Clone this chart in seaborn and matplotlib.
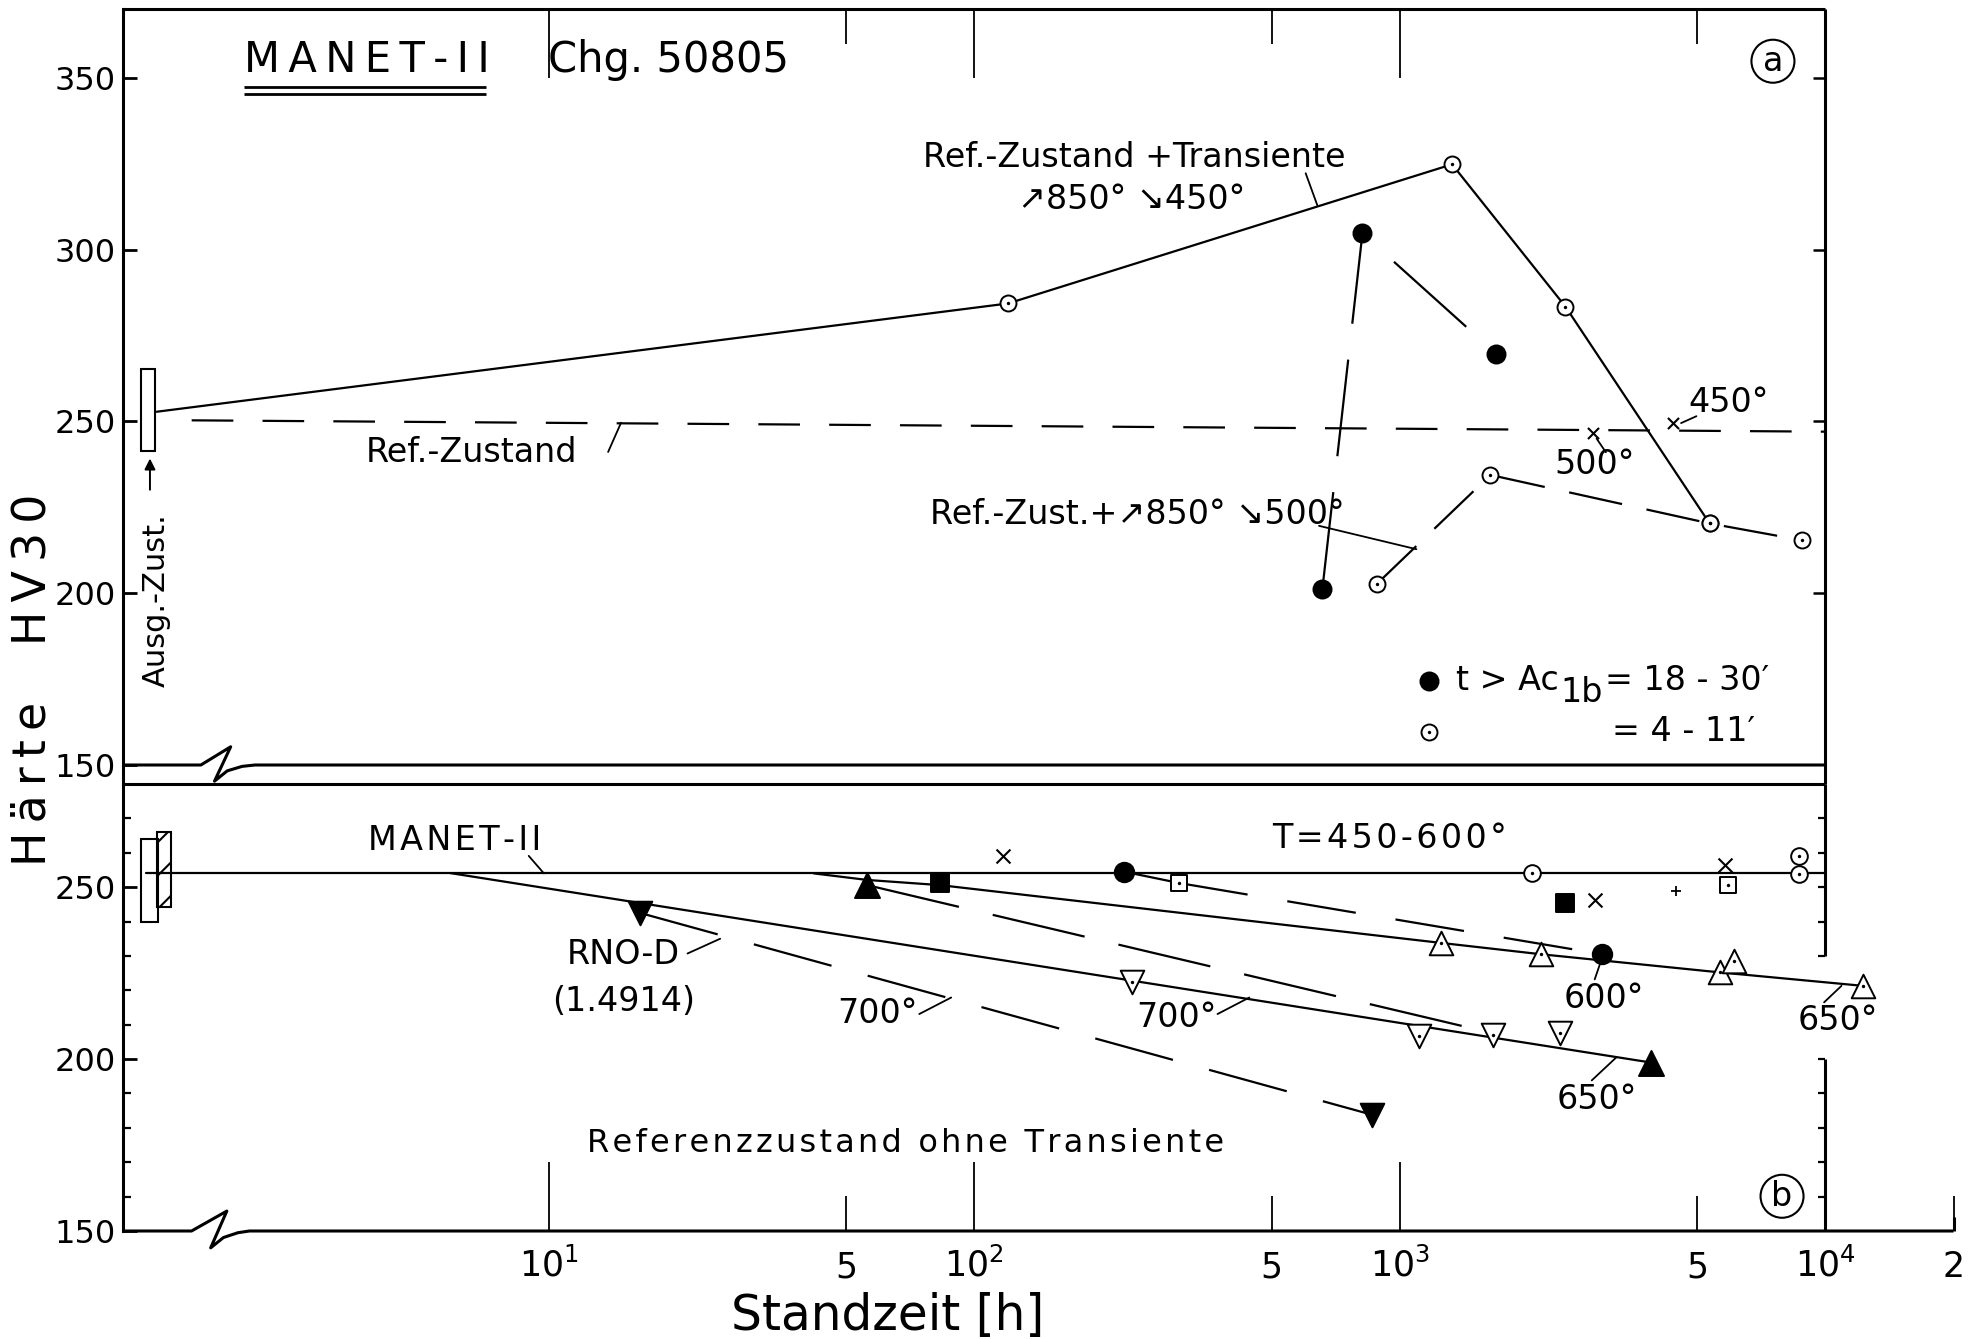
import matplotlib
matplotlib.use("Agg")
import numpy as np
import matplotlib.pyplot as plt
import seaborn as sns
from matplotlib.patches import Rectangle
from matplotlib.ticker import FixedLocator, FixedFormatter, NullFormatter, NullLocator

sns.set_style("white", rc={"axes.edgecolor": "black", "text.color": "black",
                           "xtick.color": "black", "ytick.color": "black",
                           "axes.labelcolor": "black"})
plt.rcParams["font.family"] = ["DejaVu Sans"]
plt.rcParams["mathtext.fontset"] = "dejavusans"
plt.rcParams["lines.scale_dashes"] = False
plt.rcParams["hatch.linewidth"] = 1.5

INK = "black"

# ---------------- panel (a): reference state with heating transient ----------------
a_tr450_t = [1.2, 120, 1327, 2450, 5345]            # solid: ref. state + 850°/450° transient
a_tr450_hv = [252.8, 284.3, 324.8, 283.4, 220.3]
a_full_t = [658, 817, 1687]                          # filled circles (t > Ac1b 18-30 min)
a_full_hv = [201.3, 304.7, 269.6]
a_open_t = [885, 1633, 5345, 8810]                   # open circles, 850°/500° transient
a_open_hv = [202.8, 234.4, 220.3, 215.4]
a_ref_t = [1.45, 1.0e4]                              # reference state
a_ref_hv = [250.3, 247.0]
a_cross_t = [2838, 4373]                             # 500°, 450°
a_cross_hv = [246.6, 249.5]
a_init_t = [1.10, 1.19]                              # initial state band
a_init_hv = [241.3, 265.1]

# ---------------- panel (b): reference state without transient ----------------
b_manet_t = [1.13, 1.0e4]
b_manet_hv = [254.0, 254.0]
b_init_t = [1.10, 1.21]
b_init_hv = [240.0, 263.9]
b_rno_init_t = [1.20, 1.30]
b_rno_init_hv = [244.3, 265.9]
b_650a_t = [42, 56, 83, 1247, 2143, 5662, 12250]
b_650a_hv = [254.0, 252.1, 250.6, 233.8, 230.5, 225.2, 221.3]
b_650a_tri_t = [1247, 2143, 5662, 6109, 12250]
b_650a_tri_hv = [233.8, 230.5, 225.2, 228.4, 221.3]
b_700_t = [5.87, 3890]
b_700_hv = [254.1, 199.0]
b_700_tri_t = [234.6, 1107, 1656, 2377]
b_700_tri_hv = [222.3, 206.6, 207.0, 207.5]
b_650b_t = [56, 1656]
b_650b_hv = [250.6, 207.5]
b_fill_up_t = [56, 3890]
b_fill_up_hv = [250.6, 199.0]
b_fill_sq_t = [83, 2449]
b_fill_sq_hv = [251.1, 245.4]
b_600_t = [225, 303]
b_600_hv = [254.5, 251.2]
b_600d_t = [303, 2987]
b_600d_hv = [251.2, 230.5]
b_fill_c_t = [225, 2987]
b_fill_c_hv = [254.5, 230.5]
b_rno_t = [16.4, 861]
b_rno_hv = [242.5, 183.8]
b_cross_t = [117, 2871, 5825]
b_cross_hv = [259.0, 246.4, 256.3]
b_ocirc_t = [2050, 8670, 8670]
b_ocirc_hv = [254.1, 259.0, 253.7]
b_osq_t = [303, 5900]
b_osq_hv = [251.2, 250.6]
b_plus_t = [4467]
b_plus_hv = [248.9]

x_major = [10, 100, 1000, 10000]
x_major_labels = ["$10^{1}$", "$10^{2}$", "$10^{3}$", "$10^{4}$"]
x_minor = [50, 500, 5000, 20000]
x_minor_labels = ["5", "5", "5", "2"]
y_top_ticks = [150, 200, 250, 300, 350]
y_bot_ticks = [150, 200, 250]


def curve(ax, t, hv, ls="-", lw=1.6):
    sns.lineplot(x=t, y=hv, ax=ax, color=INK, linewidth=lw, linestyle=ls,
                 sort=False, estimator=None, errorbar=None, zorder=3)


def marks(ax, t, hv, marker, size, face=INK, lw=1.4, dot=False):
    kw = dict(x=t, y=hv, ax=ax, marker=marker, s=size ** 2, color=face,
              linewidth=lw, zorder=5, legend=False, clip_on=False)
    if marker not in ("x", "+"):
        kw["edgecolor"] = INK
    sns.scatterplot(**kw)
    if dot:
        sns.scatterplot(x=t, y=hv, ax=ax, marker="o", s=6, color=INK,
                        edgecolor=INK, linewidth=0, zorder=6, legend=False, clip_on=False)


def rule(ax, xs, ys, lw=2.2):
    ax.plot(xs, ys, color=INK, lw=lw, clip_on=False, solid_capstyle="butt", zorder=4)


def lead(ax, xs, ys):
    ax.plot(xs, ys, color=INK, lw=1.3, clip_on=False, zorder=4)


def spaced(s, sep="\u200a"):
    return sep.join(s)


def note(ax, x, y, s, size=24, ha="left", va="center", **kw):
    ax.text(x, y, s, fontsize=size, ha=ha, va=va, zorder=7, **kw)


fig = plt.figure(figsize=(19.88, 13.39), dpi=100)
L = 123 / 1988
W = (1953.5 - 123) / 1988
ax1 = fig.add_axes([L, 1 - 765 / 1339, W, (765 - 9) / 1339])
ax2 = fig.add_axes([L, 1 - 1231 / 1339, W, (1231 - 784) / 1339])
for ax in (ax1, ax2):
    ax.set_xscale("log")
    ax.patch.set_alpha(0)

# ---------------- panel (a) ----------------
ax1.add_patch(Rectangle((a_init_t[0], a_init_hv[0]), a_init_t[1] - a_init_t[0],
                        a_init_hv[1] - a_init_hv[0], fill=False, lw=1.5, ec=INK, zorder=4))
curve(ax1, a_tr450_t, a_tr450_hv)
curve(ax1, a_ref_t, a_ref_hv, ls=(0, (30, 21)))
curve(ax1, a_full_t, a_full_hv, ls=(0, (70, 26)))
curve(ax1, a_open_t, a_open_hv, ls=(0, (39, 18)))
marks(ax1, a_tr450_t[1:], a_tr450_hv[1:], "o", 11.5, face="white", dot=True)
marks(ax1, a_open_t, a_open_hv, "o", 11.5, face="white", dot=True)
marks(ax1, a_full_t, a_full_hv, "o", 13)
marks(ax1, a_cross_t, a_cross_hv, "x", 8, lw=1.5)

# ---------------- panel (b) ----------------
ax2.add_patch(Rectangle((b_init_t[0], b_init_hv[0]), b_init_t[1] - b_init_t[0],
                        b_init_hv[1] - b_init_hv[0], fill=False, lw=1.5, ec=INK, zorder=4))
ax2.add_patch(Rectangle((b_rno_init_t[0], b_rno_init_hv[0]), b_rno_init_t[1] - b_rno_init_t[0],
                        b_rno_init_hv[1] - b_rno_init_hv[0], fill=False, lw=1.5, ec=INK,
                        hatch="/", zorder=4))
curve(ax2, b_manet_t, b_manet_hv)
curve(ax2, b_650a_t, b_650a_hv)
curve(ax2, b_700_t, b_700_hv)
curve(ax2, b_650b_t, b_650b_hv, ls=(0, (68, 25)))
curve(ax2, b_600_t, b_600_hv)
curve(ax2, b_600d_t, b_600d_hv, ls=(0, (50, 29)))
curve(ax2, b_rno_t, b_rno_hv, ls=(0, (58, 27)))
marks(ax2, b_650a_tri_t, b_650a_tri_hv, "^", 17, face="white", dot=True)
marks(ax2, b_700_tri_t, b_700_tri_hv, "v", 17, face="white", dot=True)
marks(ax2, b_fill_up_t, b_fill_up_hv, "^", 18)
marks(ax2, b_rno_t, b_rno_hv, "v", 17)
marks(ax2, b_fill_sq_t, b_fill_sq_hv, "s", 13)
marks(ax2, b_fill_c_t, b_fill_c_hv, "o", 14)
marks(ax2, b_ocirc_t, b_ocirc_hv, "o", 12, face="white", dot=True)
marks(ax2, b_osq_t, b_osq_hv, "s", 12, face="white", dot=True)
marks(ax2, b_cross_t, b_cross_hv, "x", 10, lw=1.5)
marks(ax2, b_plus_t, b_plus_hv, "+", 7, lw=1.3)

# ---------------- axes, frames and ticks ----------------
ax1.set_xlim(1, 2e4)
ax1.set_ylim(150, 370)
ax2.set_xlim(1, 2e4)
ax2.set_ylim(150, 280)
for ax in (ax1, ax2):
    ax.set_xlabel("")
    ax.set_ylabel("")
    for s in ax.spines.values():
        s.set_visible(False)
    ax.spines["left"].set_visible(True)
    ax.spines["left"].set_linewidth(2.2)

# panel (a) ticks: inward marks along the top edge, labelled left axis
ax1.xaxis.set_major_locator(FixedLocator([10, 100, 1000]))
ax1.xaxis.set_minor_locator(FixedLocator([50, 500, 5000]))
ax1.xaxis.set_major_formatter(NullFormatter())
ax1.xaxis.set_minor_formatter(NullFormatter())
ax1.tick_params(axis="x", which="major", direction="in", length=50, width=1.3,
                top=True, bottom=False, labeltop=False, labelbottom=False)
ax1.tick_params(axis="x", which="minor", direction="in", length=25, width=1.3,
                top=True, bottom=False)
ax1.set_yticks(y_top_ticks)
ax1.set_yticklabels([str(v) for v in y_top_ticks])
ax1.yaxis.set_minor_locator(NullLocator())
ax1.tick_params(axis="y", which="major", direction="in", length=10, width=2,
                left=True, right=False, labelsize=23, pad=5)

# panel (b) ticks
ax2.xaxis.set_major_locator(FixedLocator(x_major))
ax2.xaxis.set_major_formatter(FixedFormatter(x_major_labels))
ax2.xaxis.set_minor_locator(FixedLocator(x_minor))
ax2.xaxis.set_minor_formatter(FixedFormatter(x_minor_labels))
ax2.tick_params(axis="x", which="major", direction="in", length=50, width=1.3,
                bottom=True, top=False, labelsize=25, pad=12)
ax2.tick_params(axis="x", which="minor", direction="in", length=25, width=1.3,
                bottom=True, top=False, labelsize=25, pad=14)
for tk in ax2.xaxis.get_minor_ticks():
    if tk.get_loc() == 20000:
        tk.tick1line.set_markersize(10)
ax2.set_yticks(y_bot_ticks)
ax2.set_yticklabels([str(v) for v in y_bot_ticks])
ax2.yaxis.set_minor_locator(FixedLocator([160, 170, 180, 190, 210, 220, 230, 240, 260, 270]))
ax2.tick_params(axis="y", which="major", direction="in", length=10, width=2,
                left=True, right=False, labelsize=23, pad=5)
ax2.tick_params(axis="y", which="minor", direction="in", length=5.5, width=1.6,
                left=True, right=False)

# broken base lines
lg1 = np.array([0, 0.183, 0.253, 0.215, 0.245, 0.28, 0.31, 4.0])
yb1 = np.array([150, 150, 155.3, 145.3, 148.3, 149.6, 150, 150])
rule(ax1, 10 ** lg1, yb1)
lg2 = np.array([0, 0.161, 0.244, 0.206, 0.236, 0.27, 0.297, np.log10(2e4)])
yb2 = np.array([150, 150, 155.8, 145.1, 148.1, 149.5, 150, 150])
rule(ax2, 10 ** lg2, yb2)
rule(ax2, [2e4, 2e4], [150, 154])

# top edges and right frame
rule(ax1, [1, 1e4], [370, 370])
rule(ax1, [1e4, 1e4], [370, 144.5])
rule(ax1, [1, 1], [150, 144.5])
rule(ax2, [1, 1e4], [280, 280])
rule(ax2, [1e4, 1e4], [280, 230])
rule(ax2, [1e4, 1e4], [200, 150])
for v in [200, 250, 300, 350]:
    rule(ax1, [10 ** (4 - 0.03), 1e4], [v, v], lw=1.8)
for v in [160, 170, 180, 190, 200, 230, 240, 250, 260, 270]:
    rule(ax2, [10 ** (4 - 0.017), 1e4], [v, v], lw=1.6)

# ---------------- annotations panel (a) ----------------
note(ax1, 1.92, 355.2, spaced("MANET-II", "\u2009"), size=30)
rule(ax1, [1.92, 7.12], [347.3, 347.3], lw=2.0)
rule(ax1, [1.92, 7.12], [345.2, 345.2], lw=2.0)
note(ax1, 9.95, 355.2, "Chg. 50805", size=30)
note(ax1, 7530, 354.8, "a", size=24, ha="center",
     bbox=dict(boxstyle="circle,pad=0.15", fc="none", ec=INK, lw=1.5))
note(ax1, 75.9, 326.8, "Ref.-Zustand +Transiente")
note(ax1, 127, 314.6, "\u2197850° \u2198450°")
lead(ax1, [601, 640], [322.2, 312.9])
note(ax1, 3.71, 240.8, "Ref.-Zustand")
lead(ax1, [13.8, 14.8], [241.1, 249.6])
note(ax1, 78.6, 223.0, "Ref.-Zust.+\u2197850° \u2198500°")
lead(ax1, [646, 1094], [219.6, 212.8])
note(ax1, 2312, 237.5, "500°")
lead(ax1, [2900, 3050], [245.0, 241.0])
note(ax1, 4754, 255.5, "450°")
lead(ax1, [4581, 4977], [249.5, 251.5])
note(ax1, 1.20, 198, "Ausg.-Zust.", size=22, ha="center", rotation=90)
ax1.annotate("", xy=(1.157, 240.0), xytext=(1.157, 229.3),
             arrowprops=dict(arrowstyle="-|>", lw=1.4, color=INK, mutation_scale=16))
# key for panel (a)
marks(ax1, [1172], [174.5], "o", 13)
marks(ax1, [1172], [159.7], "o", 11.5, face="white", dot=True)
note(ax1, 10 ** 3.133, 174.5, "t > Ac")
note(ax1, 10 ** 3.378, 171.0, "1b")
note(ax1, 10 ** 3.483, 174.5, "= 18 - 30\u2032")
note(ax1, 10 ** 3.498, 159.7, "= 4 - 11\u2032")

# ---------------- annotations panel (b) ----------------
note(ax2, 3.76, 263.5, spaced("MANET-II"))
lead(ax2, [8.98, 9.75], [259.1, 254.0])
note(ax2, 501, 264.2, spaced("T=450-600°"))
note(ax2, 15.0, 230.4, "RNO-D", ha="center")
note(ax2, 15.0, 216.8, "(1.4914)", ha="center")
lead(ax2, [21.2, 25.3], [230.7, 235.0])
note(ax2, 47.6, 213.2, "700°")
lead(ax2, [74.3, 88.3], [213.1, 217.9])
note(ax2, 240, 212.0, "700°")
lead(ax2, [373, 443], [213.1, 217.9])
note(ax2, 2421, 217.5, "600°")
lead(ax2, [2985, 2871], [229.3, 223.2])
note(ax2, 8610, 211.3, "650°")
lead(ax2, [9930, 10910], [216.5, 221.3])
note(ax2, 2339, 188.1, "650°")
lead(ax2, [2825, 3221], [193.8, 200.4])
note(ax2, 12.3, 175.4, spaced("Referenzzustand ohne Transiente"), size=23)
note(ax2, 7910, 160.1, "b", size=24, ha="center",
     bbox=dict(boxstyle="circle,pad=0.15", fc="none", ec=INK, lw=1.5))

# axis titles
fig.text(33 / 1988, 1 - 680 / 1339, spaced("Härte  HV30", "\u2009"), fontsize=33,
         rotation=90, ha="center", va="center")
fig.text(888 / 1988, 1 - 1316 / 1339, "Standzeit [h]", fontsize=35, ha="center", va="center")

fig.savefig("out.png", dpi=100)
